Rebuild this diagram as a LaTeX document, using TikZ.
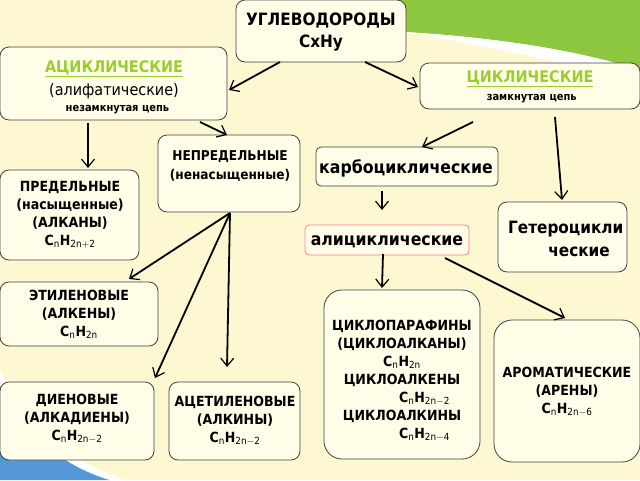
\documentclass[tikz,border=0pt]{standalone}
\usepackage{fontspec}
\setmainfont{DejaVu Sans Condensed}
\usetikzlibrary{arrows.meta}
\definecolor{bg}{HTML}{FDF8D2}
\definecolor{boxf}{HTML}{FFFDE8}
\definecolor{grn}{HTML}{8DC63F}
\definecolor{lg}{HTML}{9ACD32}
\newcommand{\fs}[1]{\fontsize{#1}{#1}\selectfont}
\newcommand{\CH}[1]{C$_{\mathrm n}$H$_{\mathrm{#1}}$}
\begin{document}
\begin{tikzpicture}[x=1pt,y=-1pt,
  box/.style={draw=black!75,fill=boxf,rounded corners=9pt,line width=0.8pt},
  t/.style={align=center,inner sep=0},
  arr/.style={line width=1.8pt,-{Straight Barb[length=8pt,width=13pt,line width=1.2pt]}}]
\useasboundingbox (0,0) rectangle (640,480);
\fill[bg] (0,0) rectangle (640,480);
\fill[grn] (395,0) -- (640,0) -- (640,70) .. controls (560,45) and (470,36) .. (405,32) -- cycle;
\fill[white] (405,32) .. controls (470,36) and (560,45) .. (640,70) -- (640,88) .. controls (560,58) and (470,44) .. (405,32) -- cycle;
\fill[cyan!60!blue!70] (0,385) .. controls (20,430) and (60,465) .. (110,480) -- (0,480) -- cycle;
\fill[white] (0,370) .. controls (20,420) and (60,458) .. (125,480) -- (110,480) .. controls (60,465) and (20,430) .. (0,385) -- cycle;
% boxes
\draw[box] (236,0) rectangle (406,62); \node[t,font=\bfseries\fs{17}] (top) at (321,32) {УГЛЕВОДОРОДЫ\\[5pt]CxHy};
\draw[box] (0,47) rectangle (227,120);
\node[t] (acy) at (114,87) {{\bfseries\fs{16}\color{lg}\underline{АЦИКЛИЧЕСКИЕ}}\\[5pt]{\fs{16}(алифатические)}\\[4pt]{\bfseries\fs{11}\ \ незамкнутая цепь}};
\draw[box] (420,63) rectangle (640,109);
\node[t] (cyc) at (530,87) {{\bfseries\fs{16}\color{lg}\underline{ЦИКЛИЧЕСКИЕ}}\\[6pt]{\bfseries\fs{11} замкнутая цепь}};
\draw[box] (158,135) rectangle (300,212); \node[t,font=\bfseries\fs{13.5}] (nep) at (230,166) {НЕПРЕДЕЛЬНЫЕ\\[5pt](ненасыщенные)};
\draw[box,rounded corners=5pt] (316,147) rectangle (498,186); \node[t,font=\bfseries\fs{17.5}] (karb) at (406,168) {карбоциклические};
\draw[box] (0,170) rectangle (139,260); \node[t,font=\bfseries\fs{14}] (pred) at (70,215) {ПРЕДЕЛЬНЫЕ\\[4pt](насыщенные)\\[4pt](АЛКАНЫ)\\[4pt]\CH{2n+2}};
\draw[box] (498,202) rectangle (627,272); \node[t,font=\bfseries\fs{17},anchor=north west] (get) at (508,221) {Гетероцикли\\[6pt]\ \ \ \ \ ческие};
\draw[box,draw=red!50,rounded corners=4pt] (305,225) rectangle (469,255); \node[t,font=\bfseries\fs{17.5}] (ali) at (387,242) {алициклические};
\draw[box] (0,282) rectangle (158,346); \node[t,font=\bfseries\fs{14}] (eth) at (79,314) {ЭТИЛЕНОВЫЕ\\[4pt](АЛКЕНЫ)\\[4pt]\CH{2n}};
\draw[box,rounded corners=18pt] (324,290) rectangle (480,459); \node[t,font=\bfseries\fs{14}] (cp) at (402,381) {ЦИКЛОПАРАФИНЫ\\[4pt](ЦИКЛОАЛКАНЫ)\\[4pt]\CH{2n}\\[4pt]ЦИКЛОАЛКЕНЫ\\[4pt]\hspace*{45pt}\CH{2n-2}\\[4pt]ЦИКЛОАЛКИНЫ\\[4pt]\hspace*{45pt}\CH{2n-4}};
\draw[box,rounded corners=18pt] (494,320) rectangle (640,462); \node[t,font=\bfseries\fs{14}] (aro) at (567,392) {АРОМАТИЧЕСКИЕ\\[4pt](АРЕНЫ)\\[4pt]\CH{2n-6}};
\draw[box] (0,382) rectangle (154,460); \node[t,font=\bfseries\fs{14}] (die) at (77,419) {ДИЕНОВЫЕ\\[4pt](АЛКАДИЕНЫ)\\[4pt]\CH{2n-2}};
\draw[box] (169,382) rectangle (300,460); \node[t,font=\bfseries\fs{14}] (ace) at (235,421) {АЦЕТИЛЕНОВЫЕ\\[4pt](АЛКИНЫ)\\[4pt]\CH{2n-2}};
% connectors
\coordinate (a1) at (280,62); \coordinate (b1) at (229,90);
\coordinate (a2) at (365,62); \coordinate (b2) at (418,87);
\coordinate (a3) at (200,122); \coordinate (b3) at (227,135);
\coordinate (a4) at (88,123); \coordinate (b4) at (88,168);
\coordinate (a5) at (473,122); \coordinate (b5) at (422,147);
\coordinate (a6) at (555,117); \coordinate (b6) at (562,200);
\coordinate (a7) at (382,191); \coordinate (b7) at (382,210);
\coordinate (n0) at (230,213);
\coordinate (b8) at (129,279); \coordinate (b9) at (155,378); \coordinate (b10) at (227,367);
\coordinate (a11) at (383,254); \coordinate (b11) at (382,288);
\coordinate (a12) at (445,258); \coordinate (b12) at (565,318);
\foreach \p/\q in {a1/b1,a2/b2,a3/b3,a4/b4,a5/b5,a6/b6,a7/b7,n0/b8,n0/b9,n0/b10,a11/b11,a12/b12} \draw[arr] (\p) -- (\q);
\end{tikzpicture}
\end{document}
